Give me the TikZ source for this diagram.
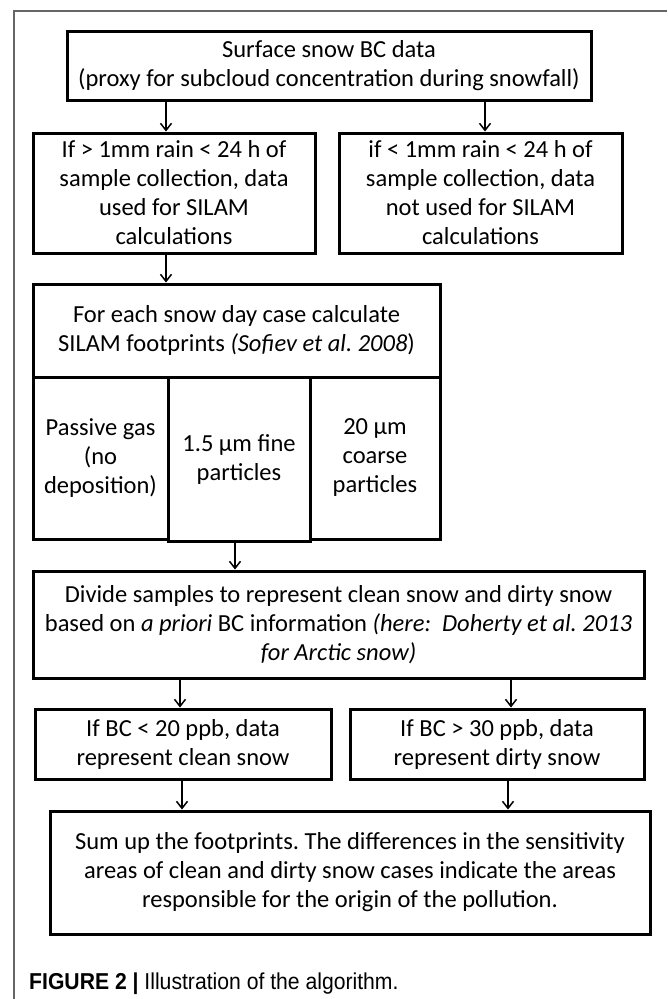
\documentclass[tikz,border=0pt]{standalone}
\usepackage{fontspec}
\setmainfont{Carlito}
\newfontfamily\capfont[FakeStretch=0.92]{Liberation Sans}
\usetikzlibrary{positioning,calc,arrows.meta}
\frenchspacing

\begin{document}
\begin{tikzpicture}
		[x=1pt, y=-1pt,
		 box/.style={draw, line width=3pt, align=center, inner sep=0pt,
			font=\fontsize{24.5}{29}\selectfont},
		 arr/.style={-{Straight Barb[length=7pt,width=11pt]}, line width=1.5pt},
		 frameline/.style={draw=black!60, line width=1.2pt}]
		\useasboundingbox (0,0) rectangle (667,999);
		\draw[frameline] (14,999) -- (14,11) -- (667,11);

		\node[box, minimum width=524pt, minimum height=69pt] (S) at (329,65.5)
			{Surface snow BC data\\(proxy for subcloud concentration during snowfall)};
		\node[box, minimum width=282pt, minimum height=120pt] (Y) at (174,193)
			{If > 1mm rain < 24 h of\\sample collection, data\\used for SILAM\\calculations};
		\node[box, minimum width=283pt, minimum height=120pt] (N) at (480.5,193)
			{if < 1mm rain < 24 h of\\sample collection, data\\not used for SILAM\\calculations};

		\node[box, minimum width=407pt, minimum height=93pt] (H) at (236.5,330.5)
			{For each snow day case calculate\\SILAM footprints \textit{(Sofiev et al. 2008})};
		\node[box, minimum width=135pt, minimum height=162pt] (G) at (100.5,458)
			{Passive gas\\(no\\deposition)};
		\node[box, minimum width=142pt, minimum height=164pt] (F) at (239,459)
			{1.5 µm fine\\particles};
		\node[box, minimum width=130pt, minimum height=162pt] (C) at (375,458)
			{20 µm\\coarse\\particles};

		\node[box, minimum width=611pt, minimum height=107pt] (D) at (338.5,624.5)
			{Divide samples to represent clean snow and dirty snow\\based on \textit{a priori} BC information \textit{(here:\ \ Doherty et al. 2013}\\\textit{for Arctic snow)}};
		\node[box, minimum width=296pt, minimum height=70pt] (K) at (183,744)
			{If BC < 20 ppb, data\\represent clean snow};
		\node[box, minimum width=294pt, minimum height=70pt] (T) at (497,744)
			{If BC > 30 ppb, data\\represent dirty snow};
		\node[box, minimum width=600pt, minimum height=123pt] (U) at (350,872.5)
			{Sum up the footprints. The differences in the sensitivity\\areas of clean and dirty snow cases indicate the areas\\responsible for the origin of the pollution.};

		\draw[arr] ([xshift=-8pt]Y.north |- S.south) -- ([xshift=-8pt]Y.north);
		\draw[arr] ([xshift=4.5pt]N.north |- S.south) -- ([xshift=4.5pt]N.north);
		\draw[arr] ([xshift=-8pt]Y.south) -- ([xshift=-8pt]Y.south |- H.north);
		\draw[arr] ([xshift=-4pt]F.south) -- ([xshift=-4pt]F.south |- D.north);
		\draw[arr] ([xshift=-3pt]K.north |- D.south) -- ([xshift=-3pt]K.north);
		\draw[arr] ([xshift=14pt]T.north |- D.south) -- ([xshift=14pt]T.north);
		\draw[arr] ([xshift=-1pt]K.south) -- ([xshift=-1pt]K.south |- U.north);
		\draw[arr] ([xshift=11pt]T.south) -- ([xshift=11pt]T.south |- U.north);

		\node[anchor=base west, inner sep=0pt, font=\capfont\fontsize{23}{27}\selectfont] (cap) at (29,989)
			{\textbf{FIGURE 2 |} Illustration of the algorithm.};
	\end{tikzpicture}
\end{document}
